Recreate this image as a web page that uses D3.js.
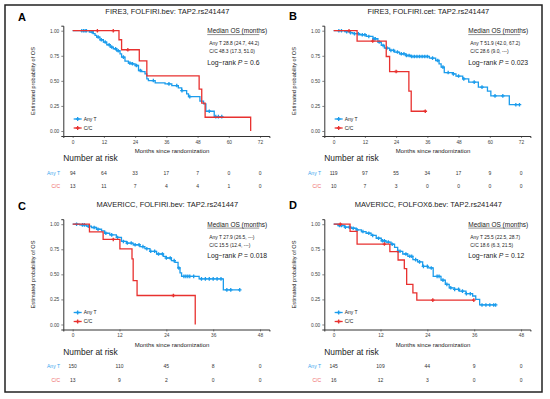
<!DOCTYPE html>
<html>
<head>
<meta charset="utf-8">
<script src="https://cdn.jsdelivr.net/npm/d3@7"></script>
<style>
  body { margin: 0; background: #fff; }
  svg { font-family: "Liberation Sans", Arial, sans-serif; }
</style>
</head>
<body>
<svg width="550" height="399"></svg>
<script>
// --- data: Kaplan-Meier steps [months, survival], censor times, numbers at risk ---
var aAnyT = [[0,1],[6.4,0.987],[7.9,0.97],[8.6,0.953],[9.2,0.937],[10.5,0.91],[11.8,0.887],[13.1,0.86],[14.4,0.837],[15.6,0.82],[16.9,0.8],[18.2,0.77],[18.8,0.737],[20.1,0.697],[21.4,0.677],[22.7,0.67],[24.0,0.653],[25.3,0.603],[26.5,0.593],[27.8,0.57],[28.5,0.52],[29.1,0.503],[31.7,0.48],[35.5,0.47],[38.1,0.453],[40.6,0.43],[41.9,0.403],[43.8,0.37],[44.5,0.343],[48.9,0.297],[50.3,0.27],[51.2,0.197],[54.4,0.143],[57.3,0.143]];
var aAnyTCens = [3.5,4.2,4.8,5.3,7.5,9.8,11,12.5,14,15,16.5,17.5,19.5,22,23,24.5,26,31,37,40,42,45,52.5,55,56,57.3];
var aCC = [[0,1],[17.8,0.91],[18.8,0.81],[25.6,0.7],[28.5,0.55],[48.6,0.417],[49.6,0.277],[50.9,0.137],[68.4,0]];
var aCCCens = [9.5,15.6,21.2];

var bAnyT = [[0,1],[4.2,0.99],[6.1,0.98],[7.4,0.97],[10,0.96],[12.5,0.943],[15.1,0.92],[17,0.887],[18.3,0.853],[19.5,0.827],[21.5,0.803],[23.4,0.787],[25.3,0.77],[27.8,0.753],[29.8,0.743],[36.8,0.727],[39.2,0.703],[40.5,0.67],[41.3,0.637],[42.5,0.583],[45.7,0.57],[47,0.548],[49.6,0.52],[51.9,0.487],[55.6,0.437],[59.1,0.397],[60.4,0.35],[67.5,0.262],[71.4,0.262]];
var bAnyTCens = [2,3,5,6.5,8,9.5,11,12,13.5,15.5,16,17.5,19,20.5,22,23,24.5,26,27,28,29,30,31,32,33,34,35,36,38,40,42,44,46,48,50,54,57,62,65,70,71.4];
var bCC = [[0,1],[9,0.897],[20.2,0.743],[21.5,0.593],[28.9,0.397],[29.8,0.197],[35.2,0.197]];
var bCCCens = [5.9,15,24,35.2];

var cAnyT = [[0,1],[1.8,0.993],[3.5,0.98],[4.8,0.967],[6.1,0.95],[7.4,0.934],[8.2,0.91],[9.5,0.894],[11.2,0.868],[12.5,0.828],[13.8,0.812],[15.5,0.795],[17.2,0.776],[18.5,0.756],[19.8,0.73],[21.5,0.703],[23.2,0.68],[24,0.663],[25.3,0.637],[26.2,0.62],[27,0.564],[27.5,0.515],[27.9,0.48],[32.4,0.455],[38.6,0.345],[42.8,0.345]];
var cAnyTCens = [1,2.5,3,4,5.5,6.5,8.5,10,11.5,13,14,15,16,17,18,19,20,21,22,23,24,25,26,27.2,28.5,29,29.5,30,31,33,34,35,36,37,38,39.5,40.5,42.8];
var cCC = [[0,1],[4.3,0.924],[7.8,0.848],[12.1,0.755],[15.2,0.655],[15.5,0.437],[16.5,0.289],[31.4,0]];
var cCCCens = [10.4,25.8];

var dAnyT = [[0,1],[1.1,0.987],[2.8,0.97],[4.5,0.96],[5.8,0.944],[7.1,0.927],[8.3,0.91],[9.6,0.888],[10.9,0.86],[12.2,0.835],[13.4,0.822],[14.7,0.8],[15.6,0.77],[16.4,0.73],[17.7,0.703],[19,0.68],[20.3,0.647],[21.5,0.624],[22.8,0.58],[24.1,0.564],[25.5,0.48],[27.5,0.442],[28.6,0.4],[29.6,0.366],[30.9,0.35],[32.2,0.333],[33.9,0.307],[35.6,0.284],[36.4,0.25],[37.4,0.195],[41.5,0.195]];
var dAnyTCens = [1.5,2,3,4,5,6,7.5,9,10,11.5,12.5,13,14,15,16.5,17,18.5,19.5,20,21,22,23,24,25,26.5,27,28,29,30,31,32,33,34,35,38,39,40,41,41.5];
var dCC = [[0,1],[4.2,0.928],[6,0.802],[14.4,0.727],[16.5,0.643],[18.1,0.558],[18.7,0.4],[20.3,0.316],[21.3,0.243],[35.9,0.243]];
var dCCCens = [1.7,13,25.4,35.9];

var titles = ["FIRE3, FOLFIRI.bev: TAP2.rs241447", "FIRE3, FOLFIRI.cet: TAP2.rs241447",
              "MAVERICC, FOLFIRI.bev: TAP2.rs241447", "MAVERICC, FOLFOX6.bev: TAP2.rs241447"];
var letters = ["A", "B", "C", "D"];
var medAnyT = ["Any T  28.8 (24.7, 44.2)", "Any T  51.9 (42.0, 67.2)", "Any T  27.9 (26.5, ---)", "Any T  25.5 (22.5, 28.7)"];
var medCC = ["C/C  48.3 (17.3, 51.0)", "C/C  28.6 (9.0, ---)", "C/C  15.5 (12.4, ---)", "C/C  18.6 (6.3, 21.5)"];
var logRankP = ["0.6", "0.023", "0.018", "0.12"];
var ticks72 = [0, 12, 24, 36, 48, 60, 72];
var ticks48 = [0, 12, 24, 36, 48];
var riskAnyT = [[94,64,33,17,7,0,0], [119,97,55,34,17,9,0], [150,110,45,8,0], [145,109,44,9,0]];
var riskCC = [[13,11,7,4,4,1,0], [10,7,3,0,0,0,0], [13,9,2,0,0], [16,12,3,0,0]];

var blue = "#1b9cec", red = "#e8312f";
var svg = d3.select("svg");

svg.append("rect").attr("width", 550).attr("height", 399).attr("fill", "#fff");
// outer frame
svg.append("rect").attr("x", 5).attr("y", 5).attr("width", 537).attr("height", 387)
    .attr("fill", "none").attr("stroke", "#222").attr("stroke-width", 1.5);

var panels = [
    { dx: 0, dy: 0, tMax: 72, ticks: ticks72, anyT: aAnyT, anyTC: aAnyTCens, cc: aCC, ccC: aCCCens, lx: 22, ly: 21 },
    { dx: 261, dy: 0, tMax: 72, ticks: ticks72, anyT: bAnyT, anyTC: bAnyTCens, cc: bCC, ccC: bCCCens, lx: 293, ly: 20 },
    { dx: 0, dy: 193.5, tMax: 48, ticks: ticks48, anyT: cAnyT, anyTC: cAnyTCens, cc: cCC, ccC: cCCCens, lx: 22, ly: 210 },
    { dx: 261, dy: 193.5, tMax: 48, ticks: ticks48, anyT: dAnyT, anyTC: dAnyTCens, cc: dCC, ccC: dCCCens, lx: 293, ly: 209 }
];

// survival value at time t for a step curve
function survAt(steps, t) {
    var s = 1;
    steps.forEach(function(p) { if (p[0] <= t) s = p[1]; });
    return s;
}

function plus(g, x, y, color, r) {
    g.append("path")
        .attr("d", "M" + (x - r) + "," + y + "H" + (x + r) + "M" + x + "," + (y - r) + "V" + (y + r))
        .attr("stroke", color).attr("stroke-width", 1.3).attr("fill", "none");
}

panels.forEach(function(p, i) {
    var g = svg.append("g").attr("transform", "translate(" + p.dx + "," + p.dy + ")");
    var x = d3.scaleLinear().domain([-0.05 * p.tMax, 1.05 * p.tMax]).range([63.3, 269.4]);
    var y = d3.scaleLinear().domain([-0.05, 1.05]).range([136, 25.7]);

    svg.append("text").attr("x", p.lx).attr("y", p.ly).attr("font-size", 11).attr("font-weight", "bold")
        .attr("text-anchor", "middle").text(letters[i]);

    g.append("text").attr("x", (63.3 + 269.4) / 2 + 1).attr("y", 13.5).attr("text-anchor", "middle")
        .attr("font-size", 7.5).attr("fill", "#222").text(titles[i]);

    // axes
    var xAxis = g.append("g").attr("transform", "translate(0,136)")
        .call(d3.axisBottom(x).tickValues(p.ticks).tickSize(2).tickPadding(2.5).tickFormat(d3.format("d")));
    var yAxis = g.append("g").attr("transform", "translate(63.3,0)")
        .call(d3.axisLeft(y).tickValues([0, 0.25, 0.5, 0.75, 1]).tickSize(2).tickPadding(2).tickFormat(d3.format(".2f")));
    [xAxis, yAxis].forEach(function(a) {
        a.select(".domain").attr("stroke", "#333").attr("stroke-width", 1);
        a.selectAll(".tick line").attr("stroke", "#333").attr("stroke-width", 0.6);
        a.selectAll("text").attr("font-size", 4.8).attr("fill", "#444").attr("font-family", "Liberation Sans, Arial, sans-serif");
    });

    g.append("text").attr("x", 172).attr("y", 153).attr("text-anchor", "middle")
        .attr("font-size", 6).attr("fill", "#222").text("Months since randomization");
    g.append("text").attr("transform", "translate(35,81) rotate(-90)").attr("text-anchor", "middle")
        .attr("font-size", 5.6).attr("fill", "#222").text("Estimated probability of OS");

    // curves
    var line = d3.line().x(function(d) { return x(d[0]); }).y(function(d) { return y(d[1]); }).curve(d3.curveStepAfter);
    [[p.anyT, p.anyTC, blue], [p.cc, p.ccC, red]].forEach(function(c) {
        g.append("path").datum(c[0]).attr("d", line).attr("fill", "none")
            .attr("stroke", c[2]).attr("stroke-width", 1.3);
        c[1].forEach(function(t) { plus(g, x(t), y(survAt(c[0], t)), c[2], 1.8); });
    });

    // legend
    [["Any T", blue, 119], ["C/C", red, 128]].forEach(function(l) {
        g.append("line").attr("x1", x(0) + 1).attr("x2", x(0) + 9).attr("y1", l[2]).attr("y2", l[2])
            .attr("stroke", l[1]).attr("stroke-width", 1.3);
        plus(g, x(0) + 5, l[2], l[1], 1.9);
        g.append("text").attr("x", x(0) + 11).attr("y", l[2] + 1.8).attr("font-size", 5).attr("fill", "#222").text(l[0]);
    });

    // median OS box
    var mx = x(0) + 134.6;
    g.append("text").attr("x", mx).attr("y", 33).attr("font-size", 6.5).attr("fill", "#222").text("Median OS (months)");
    g.append("line").attr("x1", mx).attr("x2", mx + 52).attr("y1", 34.6).attr("y2", 34.6).attr("stroke", "#444").attr("stroke-width", 0.6);
    g.append("text").attr("x", mx + 2).attr("y", 45).attr("font-size", 4.9).attr("fill", "#222").text(medAnyT[i]);
    g.append("text").attr("x", mx + 2).attr("y", 53).attr("font-size", 4.9).attr("fill", "#222").text(medCC[i]);
    var lr = g.append("text").attr("x", mx).attr("y", 64.5).attr("font-size", 6.8).attr("fill", "#222");
    lr.append("tspan").text("Log\u2212rank ");
    lr.append("tspan").attr("font-style", "italic").text("P");
    lr.append("tspan").text(" = " + logRankP[i]);

    // number at risk table
    g.append("text").attr("x", 63.3).attr("y", 161).attr("font-size", 8.4).attr("fill", "#222").text("Number at risk");
    [[riskAnyT[i], "Any T", "#3aa6ee", 174.5], [riskCC[i], "C/C", "#ee6a66", 188]].forEach(function(r) {
        g.append("text").attr("x", 60).attr("y", r[3]).attr("text-anchor", "end").attr("font-size", 5)
            .attr("fill", r[2]).text(r[1]);
        g.selectAll(null).data(r[0]).enter().append("text")
            .attr("x", function(d, k) { return x(p.ticks[k]); }).attr("y", r[3])
            .attr("text-anchor", "middle").attr("font-size", 5).attr("fill", "#333")
            .text(function(d) { return d; });
    });
});
</script>
</body>
</html>
